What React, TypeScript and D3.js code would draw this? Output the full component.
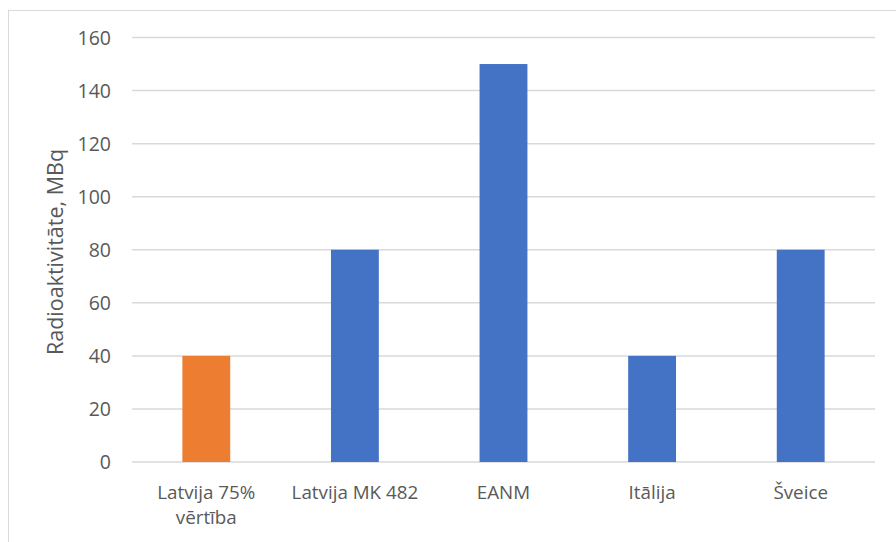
import React from "react";
import * as d3 from "d3";

const categories: string[][] = [
  ["Latvija 75%", "vērtība"],
  ["Latvija MK 482"],
  ["EANM"],
  ["Itālija"],
  ["Šveice"],
];
const values: number[] = [40, 80, 150, 40, 80];
const barColors: string[] = ["#ED7D31", "#4472C4", "#4472C4", "#4472C4", "#4472C4"];
const yTicks: number[] = [0, 20, 40, 60, 80, 100, 120, 140, 160];
const yTitle = "Radioaktivitāte, MBq";

const W = 896;
const H = 542;
const plot = { left: 132, right: 875, top: 37.5, bottom: 462 };
const FONT = "'Open Sans', sans-serif";
const TEXT = "#595959";
const LABEL_SIZE = 18.8;
const LINE_GAP = 25.7;

export default function App() {
  const x = d3
    .scaleBand<number>()
    .domain(d3.range(categories.length))
    .range([plot.left, plot.right])
    .paddingInner(0)
    .paddingOuter(0);
  const y = d3.scaleLinear().domain([0, 160]).range([plot.bottom, plot.top]);
  const barW = x.bandwidth() * 0.322;

  return (
    <svg
      width={W}
      height={H}
      style={{ position: "absolute", left: 0, top: 0, background: "#fff" }}
      fontFamily={FONT}
    >
      <rect x={8.5} y={10.5} width={W} height={H} fill="#fff" stroke="#d9d9d9" strokeWidth={1} />
      {yTicks.map((t) => (
        <g key={t}>
          <line
            x1={plot.left}
            x2={plot.right}
            y1={y(t)}
            y2={y(t)}
            stroke="#d9d9d9"
            strokeWidth={1.5}
          />
          <text
            x={111}
            y={y(t)}
            dy="0.36em"
            textAnchor="end"
            fontSize={19.5}
            fill={TEXT}
          >
            {t}
          </text>
        </g>
      ))}
      {values.map((v, i) => (
        <rect
          key={i}
          x={(x(i) as number) + x.bandwidth() / 2 - barW / 2}
          y={y(v)}
          width={barW}
          height={y(0) - y(v)}
          fill={barColors[i]}
        />
      ))}
      {categories.map((lines, i) => {
        const cx = (x(i) as number) + x.bandwidth() / 2;
        return lines.map((ln, j) => (
          <text
            key={`${i}-${j}`}
            x={cx}
            y={498.5 + j * LINE_GAP}
            textAnchor="middle"
            fontSize={LABEL_SIZE}
            fill={TEXT}
          >
            {ln}
          </text>
        ));
      })}
      <text
        transform={`translate(63, 252) rotate(-90)`}
        textAnchor="middle"
        fontSize={21.5}
        fill={TEXT}
      >
        {yTitle}
      </text>
    </svg>
  );
}
